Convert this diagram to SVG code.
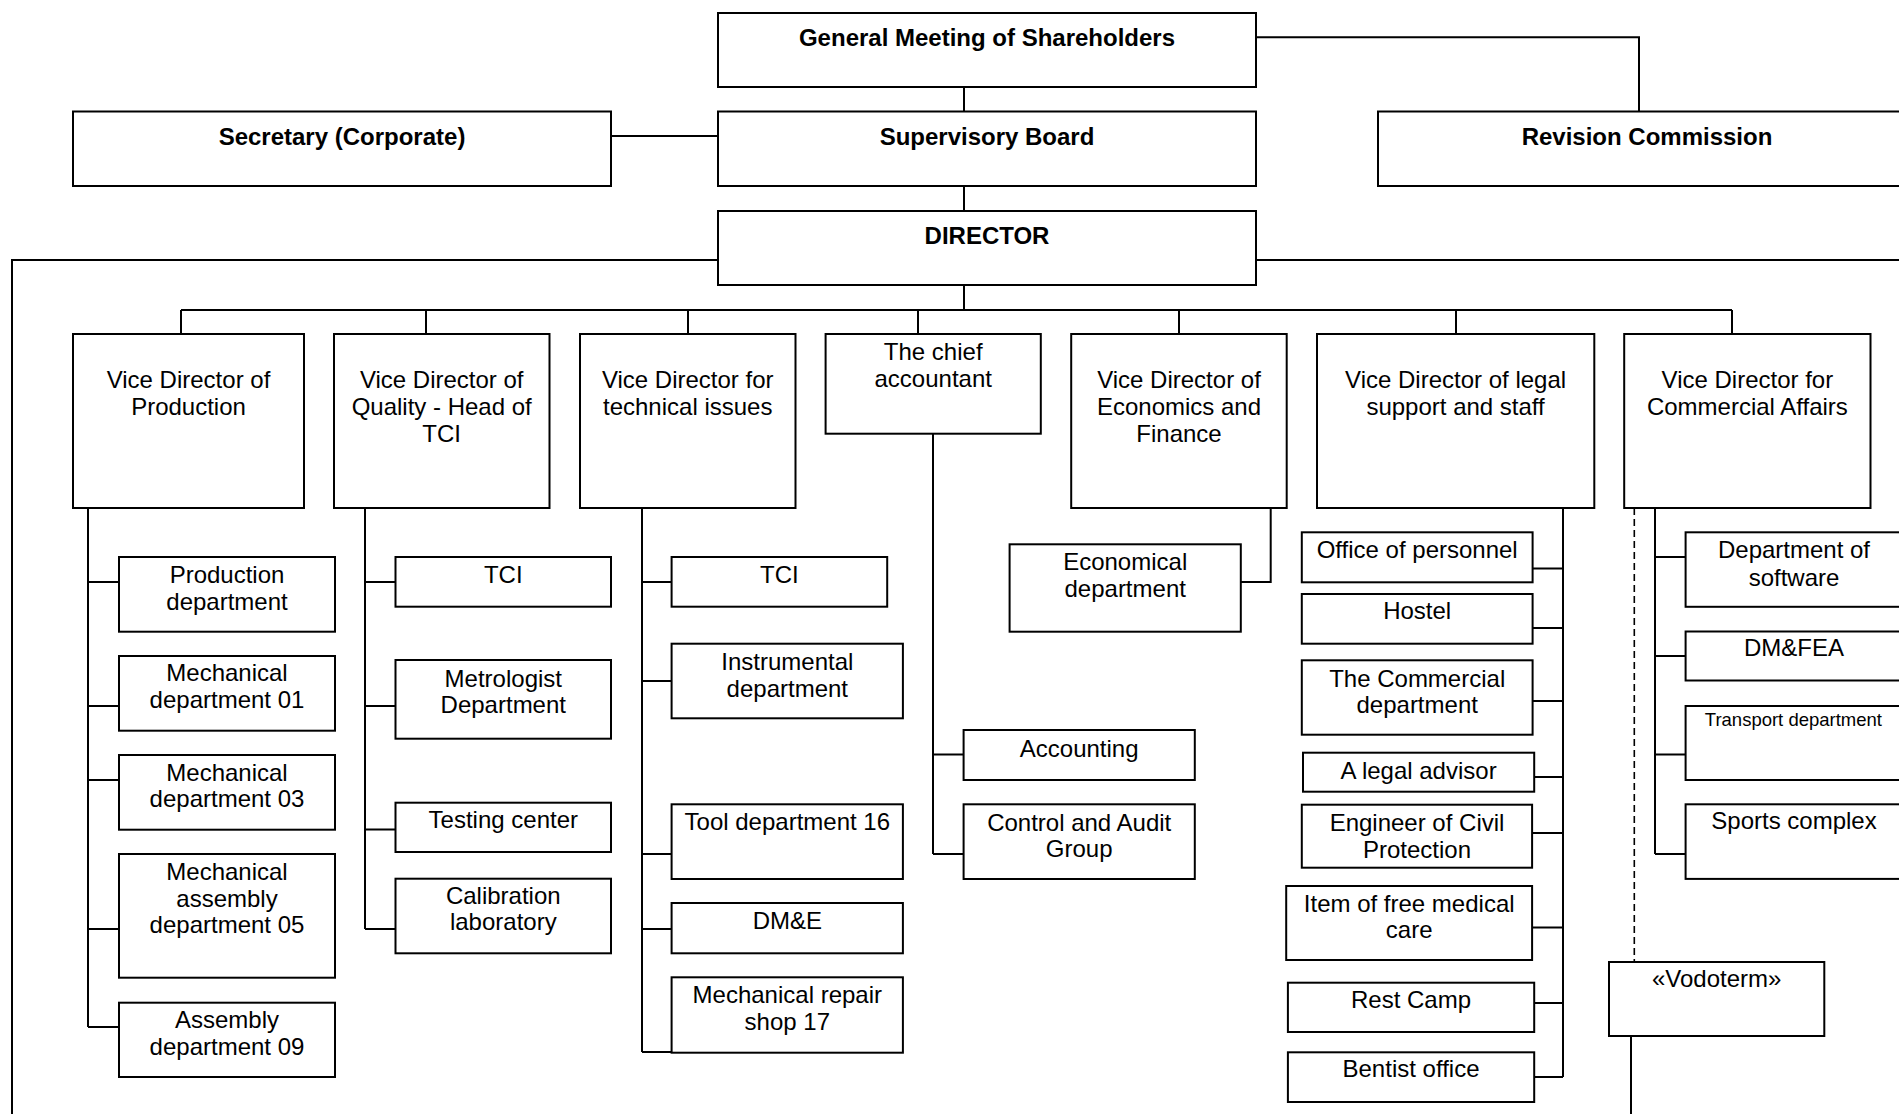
<svg xmlns="http://www.w3.org/2000/svg" width="1899" height="1114" viewBox="0 0 1899 1114">
<style>
rect{fill:#fff;stroke:#000;stroke-width:2}
text{font-family:"Liberation Sans",Arial,sans-serif;font-size:24px;fill:#000;text-anchor:middle}
.b{font-weight:bold}
.s{font-size:18.5px}
#connectors path{fill:none;stroke:#000;stroke-width:2}
#connectors .d{stroke-width:1.6;stroke-dasharray:7 4}
</style>
<rect x="0" y="0" width="1899" height="1114" style="stroke:none"/>
<g id="connectors">
<path d="M964 87V111.5M964 186V211M611 136H718M1256 37.3H1639V111.5"/>
<path d="M718 260H12V1114M1256 260H1900M964 285V310M181 310H1732"/>
<path d="M181 310V334M426 310V334M688 310V334M918 310V334M1179 310V334M1456 310V334M1732 310V334"/>
<path d="M88 508V1027M88 582H119M88 706H119M88 780H119M88 929H119M88 1027H119"/>
<path d="M365 508V929M365 582H396M365 706H396M365 829.5H396M365 929H396"/>
<path d="M642 508V1052M642 582H672M642 681H672M642 854H672M642 929H672M642 1052H672"/>
<path d="M933 434V854M933 754.5H964M933 854H964"/>
<path d="M1270.7 508V582H1241"/>
<path d="M1563 508V1077M1533 568.5H1563M1533 628H1563M1533 701H1563M1533 777H1563M1532 833H1563M1532 927.5H1563M1534 1003H1563M1534 1077H1563"/>
<path d="M1655 508V854M1655 557H1686M1655 656H1686M1655 754.5H1686M1655 854H1686"/>
<path class="d" d="M1634.3 508V962"/>
<path d="M1631 1036V1114"/>
</g>
<g id="gm"><rect x="718" y="13" width="538" height="74"/><text class="b" x="987" y="46">General Meeting of Shareholders</text></g>
<g id="secretary"><rect x="73" y="111.5" width="538" height="74.5"/><text class="b" x="342" y="145">Secretary (Corporate)</text></g>
<g id="board"><rect x="718" y="111.5" width="538" height="74.5"/><text class="b" x="987" y="145">Supervisory Board</text></g>
<g id="revision"><rect x="1378" y="111.5" width="540" height="74.5"/><text class="b" x="1647" y="145">Revision Commission</text></g>
<g id="director"><rect x="718" y="211" width="538" height="74"/><text class="b" x="987" y="243.5">DIRECTOR</text></g>

<g id="vd-production"><rect x="73" y="334" width="231" height="174"/><text x="188.5" y="388.3">Vice Director of</text><text x="188.5" y="415">Production</text></g>
<g id="vd-quality"><rect x="334" y="334" width="215.5" height="174"/><text x="441.7" y="388.3">Vice Director of</text><text x="441.7" y="415">Quality - Head of</text><text x="441.7" y="441.7">TCI</text></g>
<g id="vd-technical"><rect x="580" y="334" width="215.5" height="174"/><text x="687.7" y="388.3">Vice Director for</text><text x="687.7" y="415">technical issues</text></g>
<g id="chief-accountant"><rect x="825.6" y="334" width="215.2" height="99.7"/><text x="933.2" y="360">The chief</text><text x="933.2" y="386.7">accountant</text></g>
<g id="vd-economics"><rect x="1071.2" y="334" width="215.5" height="174"/><text x="1179" y="388.3">Vice Director of</text><text x="1179" y="415">Economics and</text><text x="1179" y="441.7">Finance</text></g>
<g id="vd-legal"><rect x="1317" y="334" width="277.3" height="174"/><text x="1455.6" y="388.3">Vice Director of legal</text><text x="1455.6" y="415">support and staff</text></g>
<g id="vd-commercial"><rect x="1624.2" y="334" width="246.3" height="174"/><text x="1747.4" y="388.3">Vice Director for</text><text x="1747.4" y="415">Commercial Affairs</text></g>

<g id="production-dept"><rect x="119" y="557" width="216" height="74.7"/><text x="227" y="583.3">Production</text><text x="227" y="610">department</text></g>
<g id="mech-01"><rect x="119" y="656" width="216" height="74.7"/><text x="227" y="681.3">Mechanical</text><text x="227" y="708">department 01</text></g>
<g id="mech-03"><rect x="119" y="755" width="216" height="74.7"/><text x="227" y="780.7">Mechanical</text><text x="227" y="807.3">department 03</text></g>
<g id="mech-05"><rect x="119" y="854" width="216" height="123.7"/><text x="227" y="880">Mechanical</text><text x="227" y="906.7">assembly</text><text x="227" y="933.4">department 05</text></g>
<g id="assembly-09"><rect x="119" y="1002.7" width="216" height="74.3"/><text x="227" y="1028.3">Assembly</text><text x="227" y="1055">department 09</text></g>

<g id="tci-q"><rect x="395.5" y="557" width="215.5" height="49.7"/><text x="503.3" y="583.3">TCI</text></g>
<g id="metrologist"><rect x="395.5" y="660" width="215.5" height="78.7"/><text x="503.3" y="686.7">Metrologist</text><text x="503.3" y="712.5">Department</text></g>
<g id="testing"><rect x="395.5" y="802.7" width="215.5" height="49.3"/><text x="503.3" y="827.7">Testing center</text></g>
<g id="calibration"><rect x="395.5" y="878.7" width="215.5" height="74.6"/><text x="503.3" y="904">Calibration</text><text x="503.3" y="930">laboratory</text></g>

<g id="tci-t"><rect x="671.6" y="557" width="215.6" height="49.7"/><text x="779.4" y="583.3">TCI</text></g>
<g id="instrumental"><rect x="671.6" y="643.7" width="231.3" height="74.6"/><text x="787.3" y="670">Instrumental</text><text x="787.3" y="696.7">department</text></g>
<g id="tool-16"><rect x="671.6" y="804.3" width="231.3" height="74.7"/><text x="787.3" y="830">Tool department 16</text></g>
<g id="dme"><rect x="671.6" y="903" width="231.3" height="50.3"/><text x="787.3" y="929.3">DM&amp;E</text></g>
<g id="repair-17"><rect x="671.6" y="977.3" width="231.3" height="75.4"/><text x="787.3" y="1003.3">Mechanical repair</text><text x="787.3" y="1030">shop 17</text></g>

<g id="accounting"><rect x="963.6" y="730" width="231.2" height="50"/><text x="1079.2" y="756.7">Accounting</text></g>
<g id="audit"><rect x="963.6" y="804.3" width="231.2" height="74.7"/><text x="1079.2" y="831">Control and Audit</text><text x="1079.2" y="856.7">Group</text></g>

<g id="economical"><rect x="1009.6" y="544.3" width="231.2" height="87.4"/><text x="1125.2" y="570">Economical</text><text x="1125.2" y="596.7">department</text></g>

<g id="personnel"><rect x="1301.8" y="532.3" width="230.8" height="50"/><text x="1417.2" y="558.3">Office of personnel</text></g>
<g id="hostel"><rect x="1301.8" y="594" width="230.8" height="49.7"/><text x="1417.2" y="619.3">Hostel</text></g>
<g id="commercial-dept"><rect x="1301.8" y="660.3" width="230.8" height="74.4"/><text x="1417.2" y="686.7">The Commercial</text><text x="1417.2" y="713.3">department</text></g>
<g id="legal-advisor"><rect x="1303" y="752.7" width="231.2" height="39"/><text x="1418.6" y="779">A legal advisor</text></g>
<g id="civil-protection"><rect x="1301.8" y="804.7" width="230.3" height="63"/><text x="1417" y="831">Engineer of Civil</text><text x="1417" y="857.7">Protection</text></g>
<g id="medical"><rect x="1286.2" y="886" width="245.9" height="74"/><text x="1409.2" y="911.7">Item of free medical</text><text x="1409.2" y="938.3">care</text></g>
<g id="rest-camp"><rect x="1287.9" y="982.7" width="246.3" height="49.3"/><text x="1411" y="1008.3">Rest Camp</text></g>
<g id="bentist"><rect x="1287.9" y="1052.3" width="246.3" height="49.7"/><text x="1411" y="1077.3">Bentist office</text></g>

<g id="software"><rect x="1685.6" y="532.3" width="218" height="74.5"/><text x="1794" y="557.7">Department of</text><text x="1794" y="585.7">software</text></g>
<g id="dmfea"><rect x="1685.6" y="631.5" width="218" height="49"/><text x="1794" y="656">DM&amp;FEA</text></g>
<g id="transport"><rect x="1685.6" y="706" width="218" height="74"/><text class="s" x="1793.4" y="726">Transport department</text></g>
<g id="sports"><rect x="1685.6" y="804.3" width="218" height="74.6"/><text x="1794" y="829">Sports complex</text></g>
<g id="vodoterm"><rect x="1609" y="962" width="215.3" height="74"/><text x="1716.7" y="986.7">«Vodoterm»</text></g>
</svg>
